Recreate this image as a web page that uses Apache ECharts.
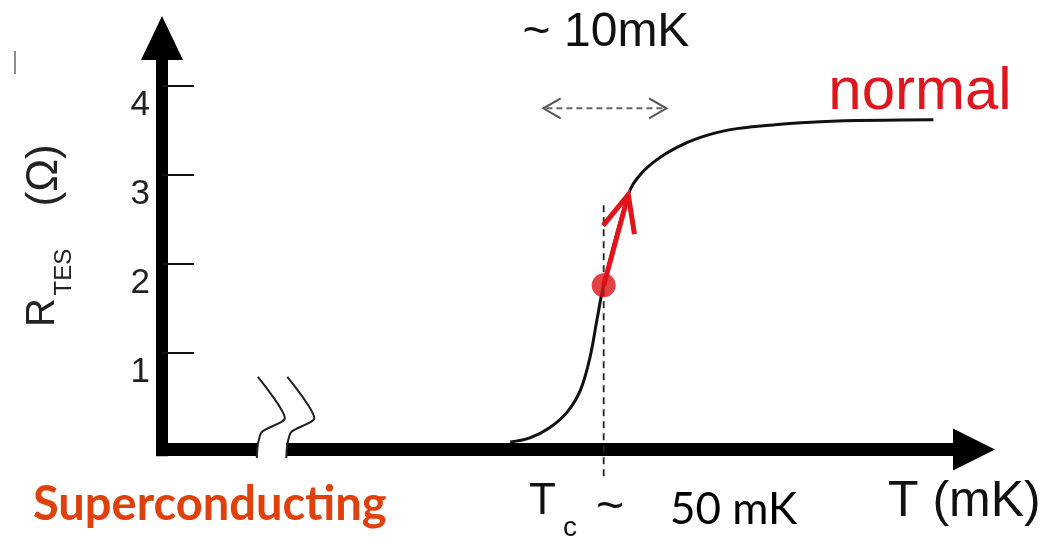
<!DOCTYPE html>
<html>
<head>
<meta charset="utf-8">
<script src="https://cdn.jsdelivr.net/npm/echarts@6/dist/echarts.min.js"></script>
<style>
html, body { margin: 0; padding: 0; background: #ffffff; }
#chart { width: 1063px; height: 538px; }
</style>
</head>
<body>
<div id="chart"></div>
<script>
// ---- data (T in mK, R in ohm) ----
const temperature = [42.3, 43.9, 45.5, 46.9, 48.0, 48.8, 49.35, 49.9, 51.9, 52.85, 54.2, 55.85, 57.7, 60.2, 63.4, 67.5, 76.7];
const resistance  = [0.00, 0.045, 0.16, 0.33, 0.58, 0.96, 1.37, 1.76, 2.78, 3.00, 3.17, 3.31, 3.42, 3.51, 3.56, 3.60, 3.62];
const yTickValues = [1, 2, 3, 4];
const tcValue = 49.9;
const tcLineSpan = [2.66, -0.39];
const operatingPoint = [49.9, 1.76];
const arrowTip = [51.9, 2.78];
const widthArrow = [45, 55, 3.75];
const axisBreakAt = 22.9;

const RED = '#e3121b';
const chart = echarts.init(document.getElementById('chart'));

function rot(x, y, t) {
  return [x * Math.cos(t) - y * Math.sin(t), x * Math.sin(t) + y * Math.cos(t)];
}
function chevron(tip, dirBack, len, angDeg) {
  const a = angDeg * Math.PI / 180;
  const r1 = rot(dirBack[0], dirBack[1], a);
  const r2 = rot(dirBack[0], dirBack[1], -a);
  return [[tip[0] + r1[0] * len, tip[1] + r1[1] * len], tip, [tip[0] + r2[0] * len, tip[1] + r2[1] * len]];
}

const option = {
  animation: false,
  backgroundColor: '#ffffff',
  grid: { left: 162, top: 38, width: 812, height: 418.2, containLabel: false, outerBoundsMode: 'none' },
  xAxis: {
    type: 'value', min: 14, max: 80, position: 'bottom', offset: -6.7,
    axisLine: { show: true, onZero: false, symbol: ['none', 'triangle'], symbolSize: [42, 42],
      lineStyle: { color: '#000', width: 13, cap: 'butt' } },
    axisTick: { show: false }, axisLabel: { show: false }, splitLine: { show: false }
  },
  yAxis: {
    type: 'value', min: -0.16, max: 4.54,
    axisLine: { show: true, onZero: false, symbol: ['none', 'triangle'], symbolSize: [42, 44],
      lineStyle: { color: '#000', width: 12, cap: 'butt' } },
    axisTick: { show: true, inside: true, length: 32, customValues: yTickValues,
      lineStyle: { color: '#111', width: 2 } },
    axisLabel: { show: true, customValues: yTickValues, margin: 12, color: '#222',
      fontSize: 35, fontFamily: 'Liberation Sans', verticalAlign: 'top', padding: [2, 0, 0, 0] },
    splitLine: { show: false }
  },
  series: [
    {
      type: 'line', name: 'Tc', clip: false, symbol: 'none', z: 2,
      data: [[tcValue, tcLineSpan[0]], [tcValue, tcLineSpan[1]]],
      lineStyle: { color: '#222', width: 1.8, type: [7, 5] }
    },
    {
      type: 'line', name: 'R(T)', smooth: 0.4, symbol: 'none', z: 3, clip: false,
      data: temperature.map((t, i) => [t, resistance[i]]),
      lineStyle: { color: '#111', width: 3 }
    },
    {
      type: 'custom', name: 'break', z: 4, silent: true,
      data: [[axisBreakAt, 0]],
      renderItem: function (params, api) {
        const p = api.coord([api.value(0), api.value(1)]);
        const sq = function (dx) {
          return { type: 'polyline', shape: { smooth: 0.25, points: [
            [p[0] + dx - 13.7, p[1] - 65], [p[0] + dx + 13.3, p[1] - 24], [p[0] + dx - 9.7, p[1] - 10],
            [p[0] + dx - 13.7, p[1] + 3], [p[0] + dx - 14.7, p[1] + 16]] },
            style: { stroke: '#222', lineWidth: 2, fill: null } };
        };
        return { type: 'group', children: [
          { type: 'rect', shape: { x: p[0] - 14, y: p[1] - 1, width: 28.5, height: 18 }, style: { fill: '#fff' } },
          sq(0), sq(29.5)
        ] };
      }
    },
    {
      type: 'custom', name: 'width', z: 4, silent: true,
      data: [widthArrow],
      renderItem: function (params, api) {
        const a = api.coord([api.value(0), api.value(2)]);
        const b = api.coord([api.value(1), api.value(2)]);
        return { type: 'group', children: [
          { type: 'line', shape: { x1: a[0] + 3, y1: a[1], x2: b[0] - 3, y2: b[1] },
            style: { stroke: '#666', lineWidth: 2, lineDash: [6, 4] } },
          { type: 'polyline', shape: { points: chevron(a, [1, 0], 20, 30) }, style: { stroke: '#555', lineWidth: 2, fill: null } },
          { type: 'polyline', shape: { points: chevron(b, [-1, 0], 20, 30) }, style: { stroke: '#555', lineWidth: 2, fill: null } }
        ] };
      }
    },
    {
      type: 'custom', name: 'arrow', z: 5, silent: true,
      data: [[operatingPoint[0], operatingPoint[1], arrowTip[0], arrowTip[1]]],
      renderItem: function (params, api) {
        const a = api.coord([api.value(0), api.value(1)]);
        const b = api.coord([api.value(2), api.value(3)]);
        const dx = a[0] - b[0], dy = a[1] - b[1], L = Math.hypot(dx, dy);
        return { type: 'group', children: [
          { type: 'line', shape: { x1: a[0], y1: a[1], x2: b[0], y2: b[1] }, style: { stroke: RED, lineWidth: 5 } },
          { type: 'polyline', shape: { points: chevron(b, [dx / L, dy / L], 40, 24) },
            style: { stroke: RED, lineWidth: 5, fill: null, lineJoin: 'miter' } }
        ] };
      }
    },
    {
      type: 'scatter', name: 'operating point', z: 6, symbol: 'circle', symbolSize: 24,
      data: [operatingPoint], itemStyle: { color: '#dd1216' }
    }
  ],
  graphic: [
    { type: 'line', shape: { x1: 15, y1: 51, x2: 15, y2: 74 }, style: { stroke: '#666', lineWidth: 1.5 } },
    { type: 'text', x: 606, y: 33, style: { text: '~ 10mK', font: '48px "Liberation Sans"', fill: '#111',
      textAlign: 'center', textVerticalAlign: 'middle' } },
    { type: 'text', x: 920, y: 92, style: { text: 'normal', font: '60px "Liberation Sans"', fill: '#e0161e',
      textAlign: 'center', textVerticalAlign: 'middle' } },
    { type: 'text', x: 33, y: 505, style: { text: 'Superconducting', font: 'bold 47px Lato', fill: '#e0400c',
      textAlign: 'left', textVerticalAlign: 'middle' } },
    { type: 'text', x: 529, y: 502, style: { text: 'T', font: '44px "Liberation Sans"', fill: '#111',
      textAlign: 'left', textVerticalAlign: 'middle' } },
    { type: 'text', x: 563, y: 528, style: { text: 'c', font: '28px "Liberation Sans"', fill: '#111',
      textAlign: 'left', textVerticalAlign: 'middle' } },
    { type: 'text', x: 596, y: 508, style: { text: '~', font: '48px "Liberation Sans"', fill: '#111',
      textAlign: 'left', textVerticalAlign: 'middle' } },
    { type: 'text', x: 670, y: 510, style: { text: '50 mK', font: '44px Lato', fill: '#000',
      textAlign: 'left', textVerticalAlign: 'middle' } },
    { type: 'text', x: 888, y: 502, style: { text: 'T (mK)', font: '50px "Liberation Sans"', fill: '#111',
      textAlign: 'left', textVerticalAlign: 'middle' } },
    { type: 'group', x: 48, y: 233.5, rotation: Math.PI / 2, children: [
      { type: 'text', x: -93.5, y: -5, style: { text: 'R', font: '40px "Liberation Sans"', fill: '#222',
        textAlign: 'left', textVerticalAlign: 'middle' } },
      { type: 'text', x: -62, y: 16.5, style: { text: 'TES', font: '24px "Liberation Sans"', fill: '#222',
        textAlign: 'left', textVerticalAlign: 'middle' } },
      { type: 'text', x: 27, y: -3, style: { text: '(Ω)', font: '44px "Liberation Sans"', fill: '#222',
        textAlign: 'left', textVerticalAlign: 'middle' } }
    ] }
  ]
};
chart.setOption(option);
</script>
</body>
</html>
